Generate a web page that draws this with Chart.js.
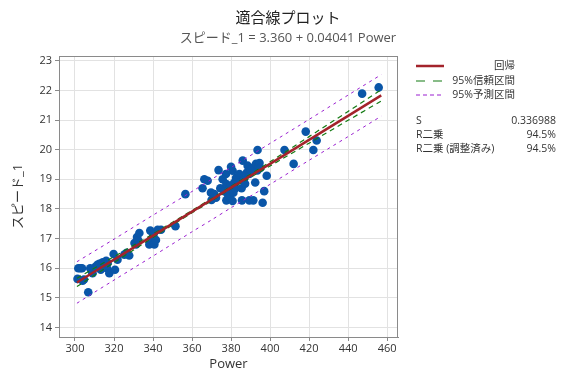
<!DOCTYPE html>
<html>
<head>
<meta charset="utf-8">
<script src="https://cdn.jsdelivr.net/npm/chart.js@4"></script>
<style>
  body { margin: 0; background: #fff; }
  #wrap { width: 576px; height: 384px; }
</style>
</head>
<body>
<div id="wrap"><canvas id="fitChart" width="576" height="384"></canvas></div>
<script>
// 観測値 (Power, スピード_1)
const powerVals = [301.3, 301.7, 302.7, 303.6, 303.9, 304.6, 306.8, 307.8, 308.5, 309.0,
  310.5, 311.5, 312.5, 313.2, 313.8, 314.2, 315.2, 316.0, 316.4, 316.7,
  317.6, 319.8, 320.5, 321.8, 325.3, 326.5, 327.8, 330.5, 331.3, 331.8,
  332.3, 333.0, 338.1, 338.6, 339.8, 340.3, 340.7, 341.5, 344.1, 342.4,
  351.5, 356.6, 365.4, 366.3, 368.0, 369.7, 370.0, 371.4, 372.3, 373.6,
  374.5, 375.7, 376.5, 377.4, 377.6, 377.6, 378.3, 378.8, 379.2, 379.6,
  380.0, 380.8, 380.8, 381.2, 381.6, 382.2, 382.6, 383.4, 384.3, 385.4,
  385.6, 386.0, 386.6, 387.2, 388.0, 388.5, 389.4, 389.4, 390.2, 391.0,
  391.4, 392.0, 392.4, 392.8, 393.5, 393.6, 394.1, 394.6, 395.0, 396.2,
  397.0, 398.3, 407.4, 412.1, 418.3, 422.2, 423.9, 447.2, 455.7];
const speedVals = [15.64, 16.0, 16.0, 16.0, 15.58, 15.62, 15.19, 16.0, 15.92, 15.83,
  16.05, 16.12, 16.15, 15.95, 16.08, 16.2, 16.15, 16.25, 16.0, 16.17,
  15.83, 16.48, 15.95, 16.29, 16.46, 16.52, 16.43, 16.85, 16.8, 17.05,
  16.95, 17.19, 16.8, 17.27, 17.02, 17.15, 16.8, 16.95, 17.3, 17.3,
  17.42, 18.5, 18.7, 19.0, 18.95, 18.55, 18.3, 18.5, 18.38, 19.31,
  18.7, 19.0, 18.6, 19.18, 18.84, 18.29, 18.5, 18.65, 18.4, 18.78,
  19.42, 19.29, 18.27, 18.55, 18.88, 18.7, 19.05, 18.97, 19.18, 18.7,
  18.29, 19.63, 19.0, 18.85, 19.22, 19.46, 19.18, 18.29, 19.3, 19.38,
  18.29, 19.42, 18.89, 19.52, 19.3, 19.99, 19.45, 19.55, 19.38, 18.21,
  18.6, 19.12, 19.99, 19.52, 20.61, 19.99, 20.31, 21.89, 22.1];

// 回帰線と区間
const lineX = [301, 320, 340, 360, 370, 380, 400, 420, 440, 457];
const fitY = [15.52, 16.29, 17.10, 17.91, 18.31, 18.72, 19.52, 20.33, 21.14, 21.83];
const ciUpper = [15.66, 16.39, 17.16, 17.95, 18.35, 18.76, 19.59, 20.44, 21.29, 22.02];
const ciLower = [15.38, 16.19, 17.04, 17.87, 18.27, 18.68, 19.45, 20.22, 20.99, 21.64];
const piUpper = [16.22, 16.98, 17.79, 18.59, 19.00, 19.40, 20.21, 21.02, 21.84, 22.53];
const piLower = [14.82, 15.60, 16.41, 17.23, 17.63, 18.04, 18.83, 19.64, 20.44, 21.13];

const xTicks = [300, 320, 340, 360, 380, 400, 420, 440, 460];
const yTicks = [14, 15, 16, 17, 18, 19, 20, 21, 22, 23];

const FONT = "'Open Sans', 'Noto Sans CJK JP', sans-serif";
const RED = "#a3232b";
const GREEN = "#137a13";
const PURPLE = "#9a1fd0";
const BLUE = "#0a56a8";

function toXY(xs, ys) {
  return xs.map((x, i) => ({ x: x, y: ys[i] }));
}

function lineSet(data, color, width, dash) {
  return {
    type: "line",
    data: data,
    borderColor: color,
    borderWidth: width,
    borderDash: dash,
    pointRadius: 0,
    fill: false,
    tension: 0.3,
    order: 0,
  };
}

// タイトル・凡例・統計量
const textPlugin = {
  id: "textPlugin",
  afterDraw(chart) {
    const ctx = chart.ctx;
    const a = chart.chartArea;
    ctx.save();
    ctx.strokeStyle = "#8a8a8a";
    ctx.lineWidth = 1;
    ctx.strokeRect(a.left + 0.5, a.top + 0.5, a.right - a.left - 1, a.bottom - a.top);

    ctx.textBaseline = "middle";
    ctx.textAlign = "center";
    ctx.fillStyle = "#222";
    ctx.font = "15px " + FONT;
    ctx.fillText("適合線プロット", 288, 19);
    ctx.fillStyle = "#555";
    ctx.font = "13px " + FONT;
    ctx.fillText("スピード_1 = 3.360 + 0.04041 Power", 288, 38);

    // 凡例
    const items = [
      { label: "回帰", color: RED, width: 2.5, dash: [], y: 66 },
      { label: "95%信頼区間", color: GREEN, width: 1.2, dash: [9, 8], y: 81 },
      { label: "95%予測区間", color: PURPLE, width: 1, dash: [4, 3], y: 95 },
    ];
    ctx.font = "10.5px " + FONT;
    ctx.fillStyle = "#333";
    items.forEach((it) => {
      ctx.beginPath();
      ctx.strokeStyle = it.color;
      ctx.lineWidth = it.width;
      ctx.setLineDash(it.dash);
      ctx.moveTo(416, it.y);
      ctx.lineTo(444, it.y);
      ctx.stroke();
      ctx.setLineDash([]);
      ctx.textAlign = "right";
      ctx.fillText(it.label, 515, it.y);
    });

    const stats = [["S", "0.336988", 121], ["R二乗", "94.5%", 135], ["R二乗 (調整済み)", "94.5%", 149]];
    stats.forEach((s) => {
      ctx.textAlign = "left";
      ctx.fillText(s[0], 416, s[2]);
      ctx.textAlign = "right";
      ctx.fillText(s[1], 556, s[2]);
    });
    ctx.restore();
  },
};

const ctx = document.getElementById("fitChart").getContext("2d");
new Chart(ctx, {
  type: "scatter",
  data: {
    datasets: [
      lineSet(toXY(lineX, fitY), RED, 2.5, []),
      lineSet(toXY(lineX, ciUpper), GREEN, 1.2, [5, 4]),
      lineSet(toXY(lineX, ciLower), GREEN, 1.2, [5, 4]),
      lineSet(toXY(lineX, piUpper), PURPLE, 1, [3, 4]),
      lineSet(toXY(lineX, piLower), PURPLE, 1, [3, 4]),
      {
        data: toXY(powerVals, speedVals),
        backgroundColor: BLUE,
        borderColor: BLUE,
        borderWidth: 0,
        pointRadius: 4.3,
        order: 1,
      },
    ],
  },
  options: {
    responsive: false,
    animation: false,
    layout: { padding: { left: 0, right: 178, top: 56, bottom: 0 } },
    plugins: {
      legend: { display: false },
      tooltip: { enabled: false },
    },
    scales: {
      x: {
        type: "linear",
        min: 291.8,
        max: 465.6,
        afterBuildTicks: (scale) => {
          scale.ticks = xTicks.map((v) => ({ value: v }));
        },
        afterFit: (scale) => {
          scale.height = 47;
        },
        grid: { color: "#e2e2e2", tickLength: 4, tickColor: "#8a8a8a" },
        border: { color: "#8a8a8a" },
        ticks: { color: "#333", font: { size: 11, family: FONT }, padding: 1, maxRotation: 0 },
        title: {
          display: true,
          text: "Power",
          color: "#333",
          font: { size: 13, family: FONT },
          padding: { top: 0, bottom: 12 },
        },
      },
      y: {
        type: "linear",
        min: 13.68,
        max: 23.16,
        afterBuildTicks: (scale) => {
          scale.ticks = yTicks.map((v) => ({ value: v }));
        },
        afterFit: (scale) => {
          scale.width = 59;
        },
        grid: { color: "#e2e2e2", tickLength: 4, tickColor: "#8a8a8a" },
        border: { color: "#8a8a8a" },
        ticks: { color: "#333", font: { size: 11, family: FONT }, padding: 3 },
        title: {
          display: true,
          text: "スピード_1",
          color: "#333",
          font: { size: 13, family: FONT },
          padding: { top: 10, bottom: 0 },
        },
      },
    },
  },
  plugins: [textPlugin],
});
</script>
</body>
</html>
